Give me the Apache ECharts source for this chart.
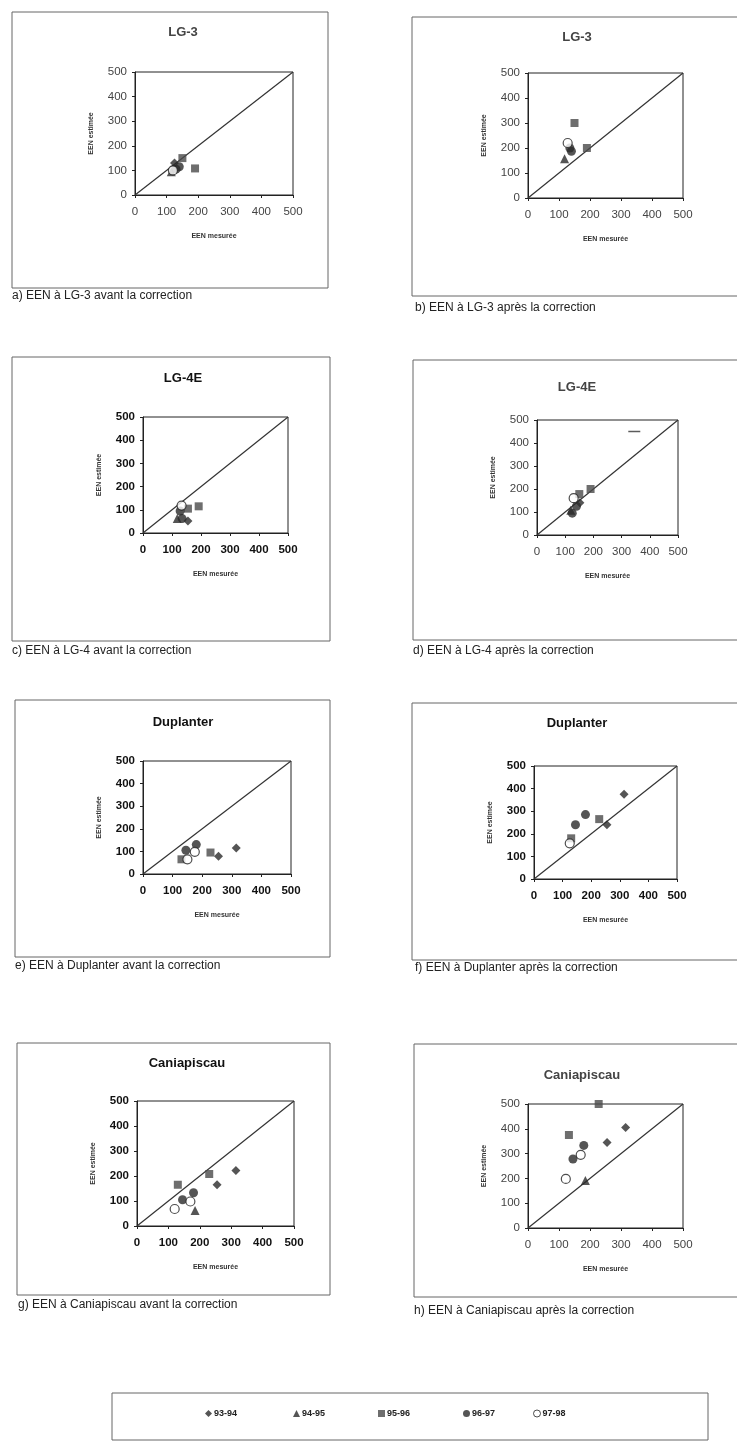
<!DOCTYPE html>
<html>
<head>
<meta charset="utf-8">
<script src="https://cdn.jsdelivr.net/npm/echarts@6/dist/echarts.min.js"></script>
<style>
html,body{margin:0;padding:0;background:#fff;}
#chart{width:737px;height:1455px;}
</style>
</head>
<body>
<div id="chart"></div>
<script>
// ---------- DATA ----------
const years = ['93-94', '94-95', '95-96', '96-97', '97-98'];
const axisMin = 0, axisMax = 500, axisStep = 100;
const diagonal = [[0, 0], [500, 500]];
const panelTitles = ['LG-3', 'LG-3', 'LG-4E', 'LG-4E', 'Duplanter', 'Duplanter', 'Caniapiscau', 'Caniapiscau'];
const captions = [
  'a) EEN à LG-3 avant la correction',
  'b) EEN à LG-3 après la correction',
  'c) EEN à LG-4 avant la correction',
  'd) EEN à LG-4 après la correction',
  'e) EEN à Duplanter avant la correction',
  'f) EEN à Duplanter après la correction',
  'g) EEN à Caniapiscau avant la correction',
  'h) EEN à Caniapiscau après la correction'
];
const xName = 'EEN mesurée';
const yName = 'EEN estimée';

// each panel: [93-94, 94-95, 95-96, 96-97, 97-98] as [measured, estimated]
const lg3Avant = [[[125, 130]], [[115, 95]], [[150, 150], [190, 108]], [[130, 105], [140, 115]], [[120, 100]]];
const lg3Apres = [[], [[118, 157]], [[150, 300], [190, 200]], [[135, 200], [140, 187]], [[128, 220]]];
const lg4Avant = [[[155, 52]], [[118, 63]], [[155, 105], [192, 115]], [[128, 95], [135, 62]], [[133, 118]]];
const lg4Apres = [[[152, 140]], [[120, 108]], [[150, 178], [190, 200]], [[125, 95], [140, 125]], [[130, 160]]];
const lg4Stray = [[345, 450]];
const dupAvant = [[[255, 78], [315, 115]], [], [[130, 65], [228, 95]], [[145, 105], [180, 130]], [[150, 65], [175, 98]]];
const dupApres = [[[255, 240], [315, 375]], [], [[130, 180], [228, 265]], [[145, 240], [180, 285]], [[125, 158]]];
const caniAvant = [[[255, 165], [315, 222]], [[185, 62]], [[130, 165], [230, 208]], [[145, 105], [180, 133]], [[120, 68], [170, 98]]];
const caniApres = [[[255, 345], [315, 405]], [[185, 192]], [[132, 375], [228, 500]], [[145, 278], [180, 333]], [[122, 198], [170, 295]]];
const panelData = [lg3Avant, lg3Apres, lg4Avant, lg4Apres, dupAvant, dupApres, caniAvant, caniApres];

// ---------- LAYOUT / STYLE ----------
const grids = [
  {left: 135, top: 72, width: 158, height: 123},
  {left: 528, top: 73, width: 155, height: 125},
  {left: 143, top: 417, width: 145, height: 116},
  {left: 537, top: 420, width: 141, height: 115},
  {left: 143, top: 761, width: 148, height: 113},
  {left: 534, top: 766, width: 143, height: 113},
  {left: 137, top: 1101, width: 157, height: 125},
  {left: 528, top: 1104, width: 155, height: 124}
];
const boldPanel = [false, false, true, false, true, true, true, false];
const boxes = [
  [12, 12, 316, 276], [412, 17, 330, 279],
  [12, 357, 318, 284], [413, 360, 330, 280],
  [15, 700, 315, 257], [412, 703, 330, 257],
  [17, 1043, 313, 252], [414, 1044, 330, 253]
];
const titlePos = [[183, 32], [577, 37], [183, 378], [577, 387], [183, 722], [577, 723], [187, 1063], [582, 1075]];
const captionPos = [[12, 296], [415, 308], [12, 651], [413, 651], [15, 966], [415, 968], [18, 1305], [414, 1311]];
const symbols = ['diamond', 'triangle', 'rect', 'circle', 'circle'];
const symSizes = [9, 9, 8, 9, 9];
const FONT = '"Liberation Sans", Arial, sans-serif';

const xAxes = [], yAxes = [], series = [], graphics = [];

grids.forEach((g, i) => {
  const bold = boldPanel[i];
  const lblColor = bold ? '#111' : '#444';
  const common = {
    type: 'value', gridIndex: i, min: axisMin, max: axisMax, interval: axisStep,
    splitLine: {show: false},
    axisLine: {show: true, lineStyle: {color: '#222', width: 1}},
    axisTick: {show: true, length: 3, lineStyle: {color: '#222'}},
    nameLocation: 'middle',
    nameTextStyle: {fontFamily: FONT, fontSize: 7, fontWeight: 'bold', color: '#333'}
  };
  xAxes.push(Object.assign({}, common, {
    name: xName, nameGap: 38,
    axisLabel: {fontFamily: FONT, fontSize: 11.5, color: lblColor, fontWeight: bold ? 'bold' : 'normal', margin: 11}
  }));
  yAxes.push(Object.assign({}, common, {
    name: yName, nameGap: 40, nameRotate: 90,
    axisLabel: {fontFamily: FONT, fontSize: 11.5, color: lblColor, fontWeight: bold ? 'bold' : 'normal', margin: 8}
  }));
  series.push({
    type: 'line', xAxisIndex: i, yAxisIndex: i, data: diagonal, symbol: 'none',
    lineStyle: {color: '#333', width: 1.2}, silent: true, z: 1
  });
  years.forEach((yr, k) => {
    const open = k === 4;
    series.push({
      name: yr, type: 'scatter', xAxisIndex: i, yAxisIndex: i,
      data: panelData[i][k], symbol: symbols[k], symbolSize: symSizes[k],
      itemStyle: open ? {color: '#fff', borderColor: '#222', borderWidth: 1.2}
                      : {color: k === 2 ? '#4a4a4a' : '#2a2a2a'},
      z: 3
    });
  });
  const b = boxes[i];
  graphics.push({type: 'rect', shape: {x: b[0], y: b[1], width: b[2], height: b[3]},
    style: {fill: 'none', stroke: '#666', lineWidth: 1}, silent: true, z: -1});
  graphics.push({type: 'text', style: {x: titlePos[i][0], y: titlePos[i][1], text: panelTitles[i],
    textAlign: 'center', textVerticalAlign: 'middle', font: 'bold 13px ' + FONT,
    fill: bold ? '#111' : '#444'}});
  graphics.push({type: 'text', style: {x: captionPos[i][0], y: captionPos[i][1], text: captions[i],
    textAlign: 'left', textVerticalAlign: 'middle', font: '12px ' + FONT, fill: '#222'}});
});

// stray dash in panel d
series.push({
  type: 'scatter', xAxisIndex: 3, yAxisIndex: 3, data: lg4Stray,
  symbol: 'rect', symbolSize: [12, 1.5], itemStyle: {color: '#333'}, silent: true
});

// legend box
graphics.push({type: 'rect', shape: {x: 112, y: 1393, width: 596, height: 47},
  style: {fill: 'none', stroke: '#666', lineWidth: 1}, silent: true});

const legendX = [200, 288, 373, 458, 528];
const legends = years.map((yr, k) => ({
  left: legendX[k], top: 1404, itemWidth: 7, itemHeight: 7, itemGap: 2,
  selectedMode: false,
  textStyle: {fontFamily: FONT, fontSize: 9, fontWeight: 'bold', color: '#222', padding: [0, 0, 0, -3]},
  data: [k === 4
    ? {name: yr, icon: 'circle', itemStyle: {color: '#fff', borderColor: '#222', borderWidth: 1}}
    : {name: yr, icon: symbols[k]}]
}));

const chart = echarts.init(document.getElementById('chart'), null, {renderer: 'canvas'});
chart.setOption({
  animation: false,
  backgroundColor: '#fff',
  grid: grids.map(g => Object.assign({show: true, borderColor: '#222', borderWidth: 1, backgroundColor: 'transparent'}, g)),
  xAxis: xAxes,
  yAxis: yAxes,
  series: series,
  legend: legends,
  graphic: graphics
});
</script>
</body>
</html>
